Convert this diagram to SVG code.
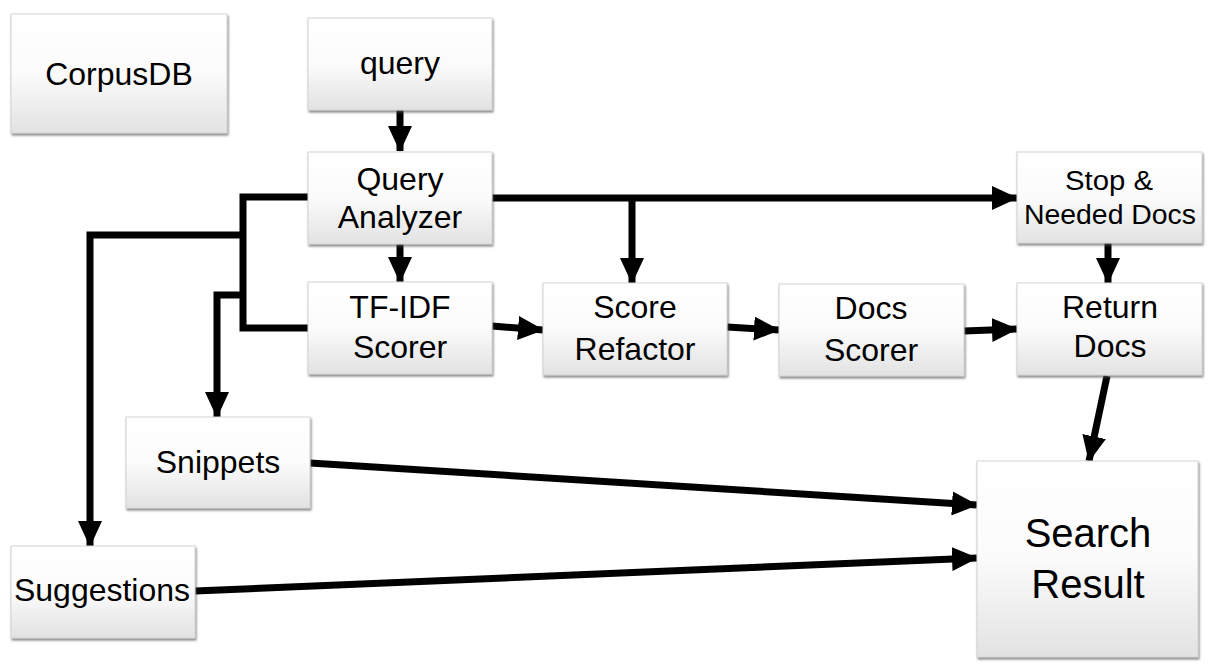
<svg xmlns="http://www.w3.org/2000/svg" width="1211" height="665" viewBox="0 0 1211 665">
<style>
.box{fill:url(#g);stroke:#d4d4d4;stroke-width:1;filter:url(#sh)}
.t{font-family:"Liberation Sans",Arial,sans-serif;font-size:32px;fill:#000;text-anchor:middle}
.c{fill:none;stroke:#000;stroke-width:7}
</style>
<defs>
<linearGradient id="g" x1="0" y1="0" x2="0" y2="1">
<stop offset="0" stop-color="#ffffff"/>
<stop offset="0.5" stop-color="#fbfbfb"/>
<stop offset="1" stop-color="#e2e2e2"/>
</linearGradient>
<filter id="sh" x="-10%" y="-10%" width="120%" height="130%">
<feDropShadow dx="1" dy="2" stdDeviation="1.2" flood-color="#555" flood-opacity="0.7"/>
</filter>
<marker id="a" markerUnits="userSpaceOnUse" markerWidth="26" markerHeight="24" viewBox="0 0 26 24" refX="25" refY="12" orient="auto">
<path d="M0,0 L26,12 L0,24 Z" fill="#000"/>
</marker>
</defs>
<g id="connectors">
<line class="c" x1="400" y1="110" x2="400" y2="151" marker-end="url(#a)"/>
<line class="c" x1="400" y1="244" x2="400" y2="282" marker-end="url(#a)"/>
<line class="c" x1="492" y1="198" x2="1017" y2="198" marker-end="url(#a)"/>
<line class="c" x1="632" y1="198" x2="632" y2="283" marker-end="url(#a)"/>
<polyline class="c" points="308,197 243,197 243,328 308,328"/>
<polyline class="c" points="243,235 90,235 90,546" marker-end="url(#a)"/>
<polyline class="c" points="243,295 217,295 217,417" marker-end="url(#a)"/>
<line class="c" x1="492" y1="326" x2="543" y2="330" marker-end="url(#a)"/>
<line class="c" x1="727" y1="327" x2="779" y2="330" marker-end="url(#a)"/>
<line class="c" x1="964" y1="331" x2="1017" y2="329" marker-end="url(#a)"/>
<line class="c" x1="1108" y1="243" x2="1108" y2="283" marker-end="url(#a)"/>
<line class="c" x1="1107" y1="376" x2="1089" y2="461" marker-end="url(#a)"/>
<line class="c" x1="310" y1="463" x2="977" y2="505" marker-end="url(#a)"/>
<line class="c" x1="195" y1="591" x2="977" y2="558" marker-end="url(#a)"/>
</g>
<g id="corpusdb"><rect class="box" x="11" y="14" width="216" height="119"/><text class="t" x="119" y="85">CorpusDB</text></g>
<g id="query"><rect class="box" x="308" y="18" width="184" height="92"/><text class="t" x="400" y="74">query</text></g>
<g id="query-analyzer"><rect class="box" x="308" y="152" width="184" height="92"/><text class="t" x="400" y="190">Query</text><text class="t" x="400" y="228">Analyzer</text></g>
<g id="tfidf"><rect class="box" x="308" y="282" width="184" height="92"/><text class="t" x="400" y="318">TF-IDF</text><text class="t" x="400" y="358">Scorer</text></g>
<g id="score-refactor"><rect class="box" x="543" y="283" width="184" height="92"/><text class="t" x="635" y="318">Score</text><text class="t" x="635" y="360">Refactor</text></g>
<g id="docs-scorer"><rect class="box" x="779" y="284" width="185" height="92"/><text class="t" x="871" y="319">Docs</text><text class="t" x="871" y="361">Scorer</text></g>
<g id="stop-needed"><rect class="box" x="1017" y="152" width="185" height="91"/><text class="t" x="1109" y="190" style="font-size:27px" textLength="88" lengthAdjust="spacingAndGlyphs">Stop &amp;</text><text class="t" x="1110" y="224" style="font-size:27px" textLength="172" lengthAdjust="spacingAndGlyphs">Needed Docs</text></g>
<g id="return-docs"><rect class="box" x="1017" y="283" width="185" height="92"/><text class="t" x="1110" y="318">Return</text><text class="t" x="1110" y="357">Docs</text></g>
<g id="snippets"><rect class="box" x="126" y="417" width="184" height="91"/><text class="t" x="218" y="473">Snippets</text></g>
<g id="suggestions"><rect class="box" x="11" y="546" width="184" height="92"/><text class="t" x="102" y="601">Suggestions</text></g>
<g id="search-result"><rect class="box" x="977" y="461" width="221" height="196"/><text class="t" x="1088" y="547" style="font-size:40px">Search</text><text class="t" x="1088" y="598" style="font-size:40px">Result</text></g>
</svg>
